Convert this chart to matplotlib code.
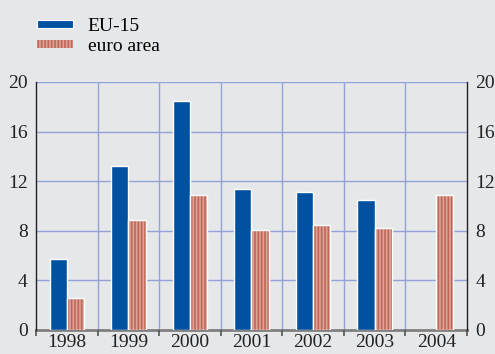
import numpy as np
import matplotlib.pyplot as plt
from matplotlib.patches import Patch

plt.rcParams['font.family'] = 'Liberation Serif'
plt.rcParams['hatch.linewidth'] = 1.2

# annual growth, percent
years = ['1998', '1999', '2000', '2001', '2002', '2003', '2004']
eu15 = [5.7, 13.2, 18.5, 11.4, 11.1, 10.5, np.nan]
euro_area = [2.6, 8.9, 10.9, 8.1, 8.5, 8.2, 10.9]

bg = '#e6e7e9'
blue = '#0052a0'
stripe_fill = '#dea397'
stripe_dark = '#bf6757'
grid_col = '#93a3d8'
fs = 14

fig = plt.figure(figsize=(4.95, 3.54), dpi=100, facecolor=bg)
ax = fig.add_axes([0.0727, 0.0678, 0.8707, 0.7006], facecolor=bg)

x = np.arange(len(years))
w = 0.28

# grid first so bars sit on top
for y in [4, 8, 12, 16, 20]:
    ax.axhline(y, color=grid_col, lw=1, zorder=0)
for b in np.arange(0.5, len(years) - 1, 1.0):
    ax.plot([b, b], [0, 20], color=grid_col, lw=1, zorder=0)

ax.bar(x - w / 2, eu15, w, color=blue, edgecolor='white', linewidth=1, zorder=2)
ax.bar(x + w / 2, euro_area, w, color=stripe_fill, edgecolor=stripe_dark,
       hatch='|||||', linewidth=0, zorder=2)
ax.bar(x + w / 2, euro_area, w, fill=False, edgecolor='white', linewidth=1, zorder=3)

ax.set_xlim(-0.5, len(years) - 0.5)
ax.set_ylim(0, 20)

ax.spines['top'].set_visible(False)
for s in ['left', 'right']:
    ax.spines[s].set_color('#222222')
    ax.spines[s].set_linewidth(1)
ax.spines['bottom'].set_color('#808080')
ax.spines['bottom'].set_linewidth(2)
ax.spines['bottom'].set_zorder(1)

ax.set_yticks([0, 4, 8, 12, 16, 20])
ax.tick_params(axis='y', length=0, labelsize=fs, colors='#222222', pad=6,
               right=True, labelright=True)

ax.set_xticks(x)
ax.set_xticklabels(years)
ax.tick_params(axis='x', length=0, labelsize=fs, colors='#222222', pad=3)
ax.set_xticks(np.arange(-0.5, len(years), 1.0), minor=True)
ax.tick_params(axis='x', which='minor', length=4, width=1.2, color='#555555',
               direction='out')

handles = [Patch(facecolor=blue, edgecolor='white', linewidth=0.8, label='EU-15'),
           Patch(facecolor=stripe_fill, edgecolor=stripe_dark, hatch='|||||',
                 linewidth=0, label='euro area')]
fig.legend(handles=handles, loc='upper left', bbox_to_anchor=(0.0747, 0.949),
           frameon=False, fontsize=fs, handlelength=1.85, handleheight=0.32,
           handletextpad=0.75, labelspacing=0.15, borderpad=0, borderaxespad=0)

fig.savefig('out.png', dpi=100, facecolor=bg)
